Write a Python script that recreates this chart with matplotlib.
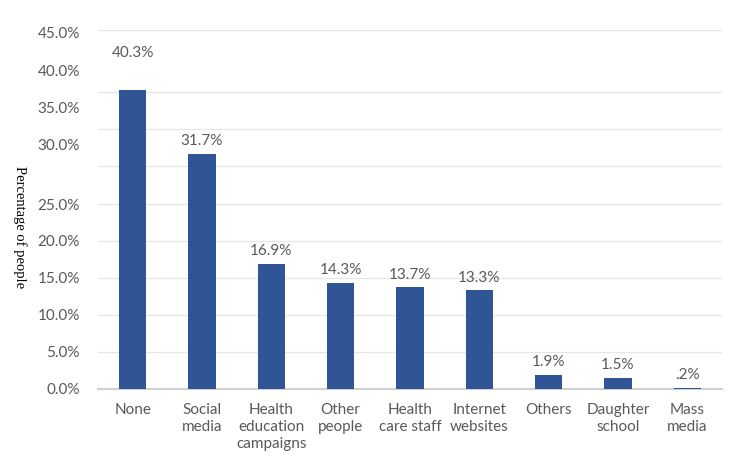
import matplotlib.pyplot as plt

# --- Данные ---
categories = ["None", "Social\nmedia", "Health\neducation\ncampaigns", "Other\npeople",
              "Health\ncare staff", "Internet\nwebsites", "Others", "Daughter\nschool", "Mass\nmedia"]
percentages = [40.3, 31.7, 16.9, 14.3, 13.7, 13.3, 1.9, 1.5, 0.2]
value_labels = ["40.3%", "31.7%", "16.9%", "14.3%", "13.7%", "13.3%", "1.9%", "1.5%", ".2%"]
tick_labels = ["0.0%", "5.0%", "10.0%", "15.0%", "20.0%", "25.0%", "30.0%", "35.0%", "40.0%", "45.0%"]

# --- Оформление ---
BAR_COLOR = "#2F5597"
TEXT_COLOR = "#595959"
plt.rcParams['font.family'] = ['Lato', 'DejaVu Sans']

figure = plt.figure(figsize=(7.5, 4.71), dpi=100)
axes = figure.add_axes([98 / 750, 1 - 389 / 471, 624 / 750, 359 / 471])

x_positions = range(len(categories))
axes.bar(x_positions, percentages, width=0.39, color=BAR_COLOR, zorder=3)
axes.set_xlim(-0.5, len(categories) - 0.5)
axes.set_ylim(0, 48.4)

# сетка каждые 5% + верхняя граница
for level in [5, 10, 15, 20, 25, 30, 35, 40, 48.4]:
    axes.axhline(level, color="#E6E6E6", linewidth=0.9, zorder=1)

# подписи оси Y стоят как на исходной картинке (верхние смещены)
label_positions = [0, 5, 10, 15, 20, 24.9, 33.0, 38.0, 43.0, 48.1]
axes.set_yticks(label_positions, tick_labels)
axes.tick_params(axis='y', length=0, pad=13, labelsize=11, labelcolor=TEXT_COLOR)
axes.set_xticks(list(x_positions), categories)
axes.tick_params(axis='x', length=0, pad=10, labelsize=11, labelcolor=TEXT_COLOR)
for label in axes.get_xticklabels():
    label.set_linespacing(1.3)

for side in ['top', 'right', 'left']:
    axes.spines[side].set_visible(False)
axes.spines['bottom'].set_color("#D0D0D0")
axes.spines['bottom'].set_linewidth(1.5)
axes.spines['bottom'].set_zorder(2)

# подписи значений над столбцами (первая поднята, как в исходнике)
offsets = [22, 4, 4, 4, 4, 4, 4, 4, 4]
for pos, value, text, offset in zip(x_positions, percentages, value_labels, offsets):
    axes.annotate(text, (pos, value), xytext=(0, offset), textcoords='offset points',
                  ha='center', va='bottom', fontsize=11, color=TEXT_COLOR)

figure.text(20 / 750, 1 - 227 / 471, "Percentage of people", rotation=270,
            ha='center', va='center', fontsize=10.5, family='Liberation Serif', color="#000000")

figure.savefig("out.png", dpi=100)
plt.close(figure)
